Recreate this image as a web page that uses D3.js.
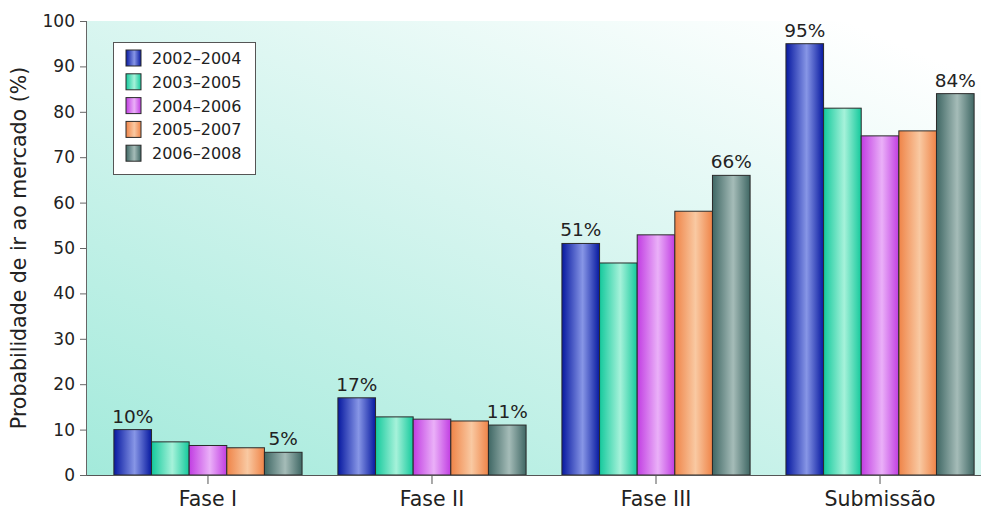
<!DOCTYPE html>
<html>
<head>
<meta charset="utf-8">
<script src="https://cdn.jsdelivr.net/npm/d3@7/dist/d3.min.js"></script>
<style>
  html, body { margin: 0; padding: 0; background: #fff; }
  svg { display: block; font-family: "DejaVu Sans", Verdana, sans-serif; }
</style>
</head>
<body>
<svg id="chart" width="981" height="512"></svg>
<script>
// Phases of clinical development and the periods compared
const phases = ["Fase I", "Fase II", "Fase III", "Submissão"];
const periods = ["2002–2004", "2003–2005", "2004–2006", "2005–2007", "2006–2008"];

// Probability of reaching the market (%) per period, one array per period
const p2002_2004 = [10, 17, 51, 95];
const p2003_2005 = [7.3, 12.8, 46.7, 80.8];
const p2004_2006 = [6.5, 12.3, 52.9, 74.7];
const p2005_2007 = [6.0, 11.9, 58.1, 75.8];
const p2006_2008 = [5, 11, 66, 84];
const seriesValues = [p2002_2004, p2003_2005, p2004_2006, p2005_2007, p2006_2008];

// Only the first and last period carry a value label
const labelledPeriods = [0, 4];

const yTicks = [0, 10, 20, 30, 40, 50, 60, 70, 80, 90, 100];
const yTitle = "Probabilidade de ir ao mercado (%)";

// Bar gradient colours: [edge, highlight]
const barColors = [
  ["#0719a0", "#8796e6"],
  ["#14c99c", "#a6f2da"],
  ["#c13de2", "#eab0f8"],
  ["#ef8448", "#f9c9a2"],
  ["#3f6764", "#a5bcb8"]
];

const svg = d3.select("#chart");
const W = 981, H = 512;
const m = { left: 87, top: 21, bottom: 475 };

const x0 = d3.scaleBand().domain(phases).range([m.left, 1001]).paddingInner(0.16).paddingOuter(0.12);
const x1 = d3.scaleBand().domain(d3.range(periods.length)).range([0, x0.bandwidth()]).padding(0);
const y = d3.scaleLinear().domain([0, 100]).range([m.bottom, m.top]);

const defs = svg.append("defs");
const bg = defs.append("linearGradient").attr("id", "bg")
  .attr("x1", "0").attr("y1", "1").attr("x2", "0.85").attr("y2", "0");
bg.append("stop").attr("offset", "0").attr("stop-color", "#a3eadb");
bg.append("stop").attr("offset", "0.55").attr("stop-color", "#d6f5ef");
bg.append("stop").attr("offset", "1").attr("stop-color", "#ffffff");

barColors.forEach((c, i) => {
  const g = defs.append("linearGradient").attr("id", "bar" + i)
    .attr("x1", "0").attr("y1", "0").attr("x2", "1").attr("y2", "0");
  g.append("stop").attr("offset", "0").attr("stop-color", c[0]);
  g.append("stop").attr("offset", "0.55").attr("stop-color", c[1]);
  g.append("stop").attr("offset", "1").attr("stop-color", c[0]);
});

// Plot background
svg.append("rect")
  .attr("x", m.left).attr("y", m.top)
  .attr("width", W - m.left).attr("height", m.bottom - m.top)
  .attr("fill", "url(#bg)");

// Bars
const groups = svg.append("g").selectAll("g").data(phases).join("g")
  .attr("transform", d => `translate(${x0(d)},0)`);

groups.selectAll("rect")
  .data((d, pi) => seriesValues.map((s, si) => ({ si, v: s[pi] })))
  .join("rect")
  .attr("x", d => x1(d.si))
  .attr("y", d => y(d.v))
  .attr("width", x1.bandwidth())
  .attr("height", d => y(0) - y(d.v))
  .attr("fill", d => `url(#bar${d.si})`)
  .attr("stroke", "#2a2a2a")
  .attr("stroke-width", 1);

// Value labels
groups.selectAll("text.val")
  .data((d, pi) => labelledPeriods.map(si => ({ si, v: seriesValues[si][pi] })))
  .join("text")
  .attr("class", "val")
  .attr("x", d => x1(d.si) + x1.bandwidth() / 2)
  .attr("y", d => y(d.v) - 7)
  .attr("text-anchor", "middle")
  .attr("font-size", 18.5)
  .attr("fill", "#222")
  .text(d => Math.round(d.v) + "%");

// Y axis
const yAxis = svg.append("g")
  .attr("transform", `translate(${m.left},0)`)
  .call(d3.axisLeft(y).tickValues(yTicks).tickSize(7).tickPadding(5));
yAxis.select(".domain").attr("stroke", "#666").attr("d", `M-0.5,${m.top}V${m.bottom}`);
yAxis.selectAll(".tick line").attr("stroke", "#666");
yAxis.selectAll(".tick text").attr("font-size", 17).attr("fill", "#222")
  .attr("font-family", "DejaVu Sans, sans-serif");

// X axis
const xAxis = svg.append("g")
  .attr("transform", `translate(0,${m.bottom})`)
  .call(d3.axisBottom(x0).tickSize(9).tickPadding(7));
xAxis.select(".domain").attr("stroke", "#555").attr("d", `M${m.left},0.5H${W}`);
xAxis.selectAll(".tick line").attr("stroke", "#555");
xAxis.selectAll(".tick text").attr("font-size", 20.5).attr("fill", "#222")
  .attr("font-family", "DejaVu Sans, sans-serif");

// Y axis title
svg.append("text")
  .attr("transform", `translate(26,${(m.top + m.bottom) / 2 + 0}) rotate(-90)`)
  .attr("text-anchor", "middle")
  .attr("font-size", 20.5)
  .attr("fill", "#222")
  .text(yTitle);

// Legend
const lg = svg.append("g").attr("transform", "translate(113,42)");
lg.append("rect").attr("x", 0.5).attr("y", 0.5).attr("width", 142).attr("height", 132)
  .attr("fill", "#fff").attr("stroke", "#555");
periods.forEach((p, i) => {
  const row = lg.append("g").attr("transform", `translate(13,${8 + i * 23.8})`);
  row.append("rect").attr("width", 15).attr("height", 16)
    .attr("fill", `url(#bar${i})`).attr("stroke", "#2a2a2a");
  row.append("text").attr("x", 26).attr("y", 14)
    .attr("font-size", 16).attr("fill", "#222").text(p);
});
</script>
</body>
</html>
